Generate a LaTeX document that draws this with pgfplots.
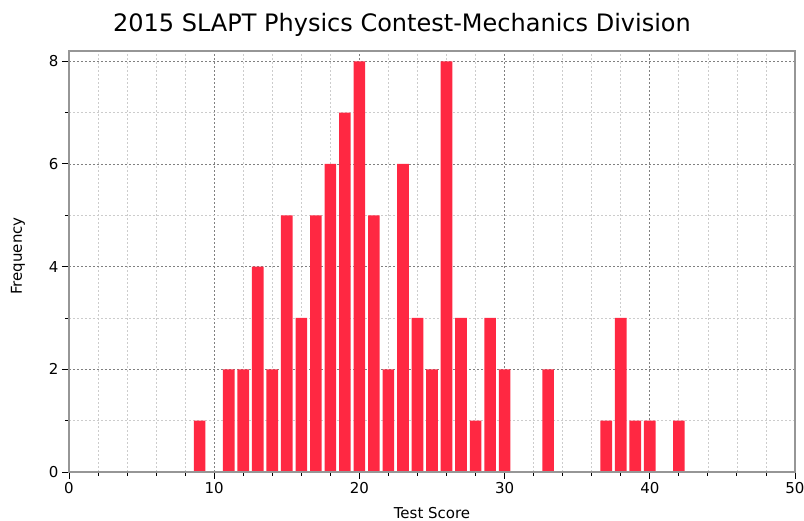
\documentclass[border=0pt]{standalone}
\usepackage{fontspec}
\setmainfont{DejaVu Sans}
\usepackage{pgfplots}
\pgfplotsset{compat=1.18}
\definecolor{barred}{RGB}{255,40,66}
\definecolor{axgray}{RGB}{150,150,150}
\begin{document}
\begin{tikzpicture}[x=1pt,y=1pt]
\begin{axis}[name=ax, at={(0,0)}, anchor=south west, scale only axis,
  width=726pt, height=421pt,
  xmin=0, xmax=50, ymin=0, ymax=8.2,
  xtick={0,10,...,50}, minor xtick={2,4,6,8,12,14,16,18,22,24,26,28,32,34,36,38,42,44,46,48},
  ytick={0,2,...,8}, minor ytick={1,3,5,7},
  xtick pos=bottom, ytick pos=left,
  tick align=outside, major tick length=7pt, minor tick length=4pt,
  major tick style={black, line width=0.9pt},
  minor tick style={black, line width=0.9pt},
  axis line style={axgray, line width=1.2pt},
  grid=both,
  major grid style={black!50, dash pattern=on 2pt off 2pt, line width=0.7pt},
  minor grid style={black!20, dash pattern=on 2pt off 2pt, line width=0.7pt},
  /pgf/number format/assume math mode=true,
  ticklabel style={font=\fontsize{15}{17}\selectfont},
]
\addplot[ybar, bar width=0.8, fill=barred, draw=none] coordinates {
(9,1) (11,2) (12,2) (13,4) (14,2) (15,5) (16,3) (17,5) (18,6) (19,7) (20,8)
(21,5) (22,2) (23,6) (24,3) (25,2) (26,8) (27,3) (28,1) (29,3) (30,2)
(33,2) (37,1) (38,3) (39,1) (40,1) (42,1)
};
\end{axis}
\draw[axgray, line width=2.2pt] (ax.north west) -- (ax.south west) -- (ax.south east);
\node at (333,447) {\fontsize{24}{27}\selectfont 2015 SLAPT Physics Contest-Mechanics Division};
\node[rotate=90] at (-51,216) {\fontsize{15}{17}\selectfont Frequency};
\node at (363,-41) {\fontsize{15}{17}\selectfont Test Score};
\pgfresetboundingbox
\path[use as bounding box] (-69,-49) rectangle (735,472);
\end{tikzpicture}
\end{document}
